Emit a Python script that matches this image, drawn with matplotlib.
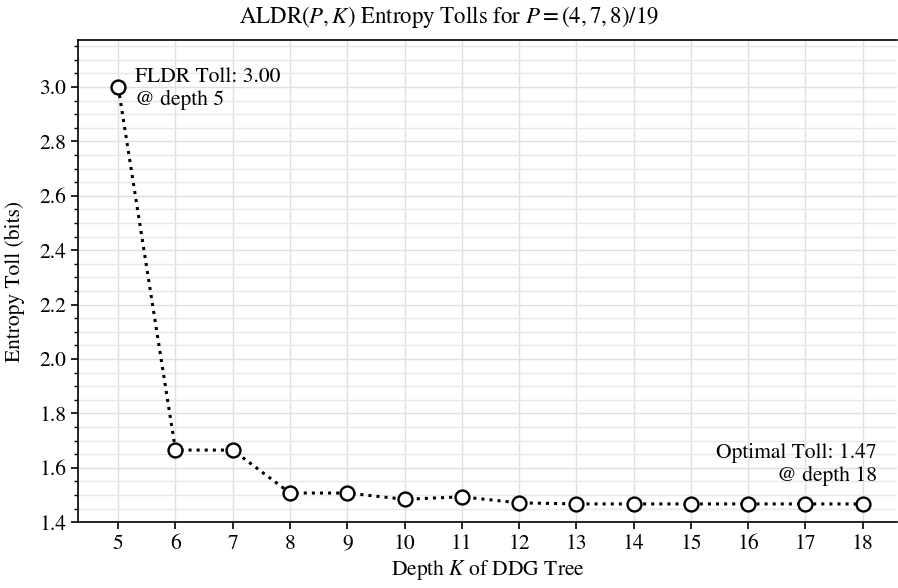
import matplotlib
matplotlib.use("Agg")
import matplotlib.pyplot as plt
from matplotlib.ticker import MultipleLocator

plt.rcParams['font.family'] = ['STIXGeneral', 'Liberation Serif', 'DejaVu Serif']
plt.rcParams['mathtext.fontset'] = 'stix'

depths = [5, 6, 7, 8, 9, 10, 11, 12, 13, 14, 15, 16, 17, 18]
tolls = [3.00, 1.665, 1.665, 1.507, 1.507, 1.484, 1.493, 1.471, 1.467, 1.467, 1.467, 1.467, 1.467, 1.467]
title = r"ALDR$(P,K)$ Entropy Tolls for $P=(4,7,8)/19$"
xlabel = r"Depth $K$ of DDG Tree"
ylabel = "Entropy Toll (bits)"
fldr_label = "FLDR Toll: 3.00\n@ depth 5"
opt_label = "Optimal Toll: 1.47\n@ depth 18"

FS = 15.5

fig = plt.figure(figsize=(8.98, 5.88), dpi=100)
ax = fig.add_axes([0.087, 0.112, 0.912, 0.820])

ax.plot(depths, tolls, linestyle=':', color='black', linewidth=2.2,
        marker='o', markersize=10, markerfacecolor='white',
        markeredgecolor='black', markeredgewidth=1.7, zorder=3)

ax.set_xlim(4.3, 18.6)
ax.set_ylim(1.4, 3.173)
ax.set_xticks(depths)
ax.yaxis.set_major_locator(MultipleLocator(0.2))
ax.yaxis.set_minor_locator(MultipleLocator(0.05))
ax.grid(which='major', color='#e0e0e0', linewidth=1)
ax.grid(which='minor', axis='y', color='#e8e8e8', linewidth=1)
ax.set_axisbelow(True)
ax.spines['right'].set_visible(False)
for s in ['left', 'bottom', 'top']:
    ax.spines[s].set_linewidth(1.2)
ax.tick_params(labelsize=FS, length=5, width=1.2)
ax.tick_params(which='minor', length=3, width=1.0)

fig.text(0.5, 1 - 4 / 588, title, fontsize=16.5, ha='center', va='top')
ax.set_xlabel(xlabel, fontsize=FS, labelpad=3)
ax.set_ylabel(ylabel, fontsize=FS, labelpad=10)

ax.annotate(fldr_label, xy=(depths[0], tolls[0]), xytext=(12, 14),
            textcoords='offset points', ha='left', va='top', fontsize=FS,
            linespacing=1.15)
ax.annotate(opt_label, xy=(depths[-1], tolls[-1]), xytext=(10, 13),
            textcoords='offset points', ha='right', va='bottom', fontsize=FS,
            linespacing=1.15)

fig.savefig("out.png", dpi=100)
